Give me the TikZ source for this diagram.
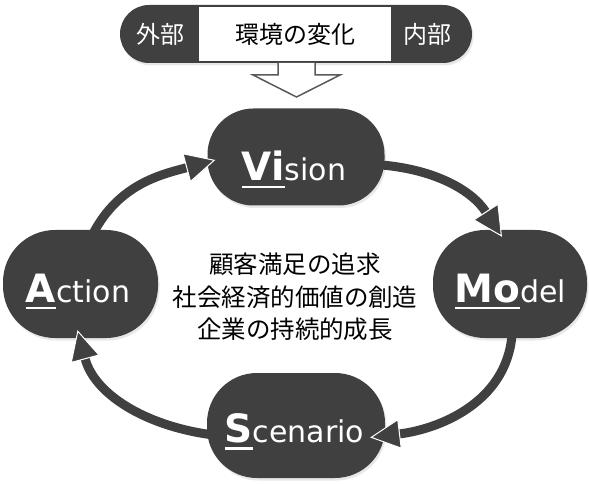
\documentclass[tikz,border=0pt]{standalone}
\usepackage{fontspec}
\setmainfont{DejaVu Sans}
\newfontfamily\jp{Noto Sans CJK JP}
\usetikzlibrary{arrows.meta,shadows}
\definecolor{dk}{HTML}{404040}
\definecolor{hol}{HTML}{5A5A5A}
\newcommand\myul[1]{\setbox0\hbox{#1}\rlap{\rule[-7.5pt]{\wd0}{2.5pt}}\box0}
\begin{document}
\begin{tikzpicture}[x=1pt,y=1pt,
  blob/.style={fill=dk, draw=none, rectangle, inner sep=0pt,
    drop shadow={opacity=0.18, shadow xshift=1.5pt, shadow yshift=-2.5pt}},
  lbl/.style={text=white, inner sep=0pt, anchor=base},
  big/.style={font=\fontsize{39}{39}\selectfont\bfseries},
  flow/.style={draw=dk, line width=9pt,
    -{Triangle[length=30pt,width=30pt,line width=1pt,color=white,fill=dk]}},
  jtext/.style={font=\jp\fontsize{24}{24}\selectfont, inner sep=0pt}
]
\useasboundingbox (0,0) rectangle (590,483);

% banner
\node[blob, minimum width=352pt, minimum height=58pt, rounded corners=29pt] (banner) at (296,449) {};
\node[fill=white, minimum width=192pt, minimum height=54pt, inner sep=0pt] (envbox) at (295,449) {};
\node[jtext] (env) at (295,449) {環境の変化};
\node[jtext, text=white] (gai) at (160,449) {外部};
\node[jtext, text=white] (nai) at (427,449) {内部};

% hollow arrow
\draw[hol, line width=1.5pt, fill=white]
  (278,420) -- (278,408) -- (253,408) -- (296.5,386) -- (340,408) -- (315,408) -- (315,420);

% cycle nodes
\node[blob, minimum width=177pt, minimum height=97pt, rounded corners=46pt] (vision) at (296,326) {};
\node[blob, minimum width=154pt, minimum height=108pt, rounded corners=52pt] (model) at (510,199) {};
\node[blob, minimum width=155pt, minimum height=108pt, rounded corners=52pt] (action) at (80.5,199) {};
\node[blob, minimum width=178pt, minimum height=105pt, rounded corners=50pt] (scenario) at (296,57.5) {};

\node[lbl] (vt) at (294,302) {\myul{\fontsize{39}{39}\selectfont\bfseries Vi}\fontsize{30}{30}\selectfont sion};
\node[lbl] (mt) at (510.5,181) {\myul{\fontsize{39}{39}\selectfont\bfseries Mo}\fontsize{30}{30}\selectfont del};
\node[lbl] (at) at (78,181) {\myul{\fontsize{39}{39}\selectfont\bfseries A}\fontsize{30}{30}\selectfont ction};
\node[lbl] (st) at (294.5,41) {\myul{\fontsize{39}{39}\selectfont\bfseries S}\fontsize{30}{30}\selectfont cenario};

% center text
\node[align=center, font=\jp\fontsize{24.5}{32.5}\selectfont] (goal) at (295,186)
  {顧客満足の追求\\社会経済的価値の創造\\企業の持続的成長};

% cycle arrows
\draw[flow] ([xshift=-3pt,yshift=-8pt]vision.east) to[out=-5, in=123] ([xshift=-8pt,yshift=-7pt]model.north);
\draw[flow] ([xshift=2pt,yshift=3pt]model.south) to[out=-95, in=7] ([xshift=-15pt,yshift=-12pt]scenario.east);
\draw[flow] ([xshift=3pt,yshift=-9pt]scenario.west) to[out=172, in=-75] ([xshift=-3pt,yshift=8pt]action.south);
\draw[flow] ([xshift=13pt,yshift=-3pt]action.north) to[out=62, in=195] ([xshift=8pt,yshift=-3pt]vision.west);
\end{tikzpicture}
\end{document}
